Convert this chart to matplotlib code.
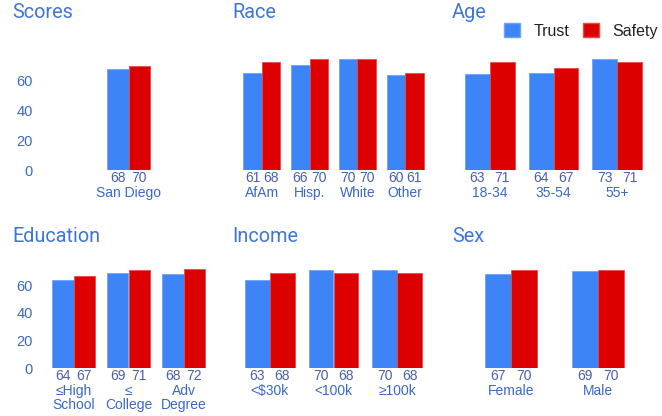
import matplotlib
matplotlib.use("Agg")
import matplotlib.pyplot as plt
from matplotlib.patches import Patch

# ---- data ----
scores_cats = ["San Diego"]
scores_trust = [68]
scores_safety = [70]

race_cats = ["AfAm", "Hisp.", "White", "Other"]
race_trust = [61, 66, 70, 60]
race_safety = [68, 70, 70, 61]

age_cats = ["18-34", "35-54", "55+"]
age_trust = [63, 64, 73]
age_safety = [71, 67, 71]

edu_cats = ["\u2264High\nSchool", "\u2264\nCollege", "Adv\nDegree"]
edu_trust = [64, 69, 68]
edu_safety = [67, 71, 72]

income_cats = ["<$30k", "<100k", "\u2265100k"]
income_trust = [63, 70, 70]
income_safety = [68, 68, 68]

sex_cats = ["Female", "Male"]
sex_trust = [67, 69]
sex_safety = [70, 70]

yticks = [0, 20, 40, 60]

# ---- style ----
W, H = 662, 416
BLUE = "#3d85f6"
RED = "#dd0000"
TITLE_C = "#3f76d6"
CAT_C = "#3a68c8"
VAL_C = "#4a5fae"
LBL_FONT = ["Liberation Sans", "DejaVu Sans"]
TITLE_FONT = ["Roboto", "DejaVu Sans"]

fig = plt.figure(figsize=(W / 100, H / 100), dpi=100)


def px_axes(x0, x1, ytop, ybot):
    return fig.add_axes([x0 / W, 1 - ybot / H, (x1 - x0) / W, (ybot - ytop) / H])


def panel(title, tx, ty, rect, cats, trust, safety, xlim, ymax, bw, show_y=False):
    ax = px_axes(*rect)
    xs = list(range(len(cats)))
    ax.bar([x - bw / 2 for x in xs], trust, width=bw, color=BLUE,
           edgecolor="#6fa3f8", linewidth=0.6)
    ax.bar([x + bw / 2 for x in xs], safety, width=bw, color=RED,
           edgecolor="#e84a4a", linewidth=0.6)
    ax.set_xlim(*xlim)
    ax.set_ylim(0, ymax)
    for s in ax.spines.values():
        s.set_visible(False)
    ax.set_xticks([])
    if show_y:
        ax.set_yticks(yticks)
        ax.tick_params(axis="y", length=0, pad=9.5, labelcolor=CAT_C,
                       labelsize=10.5)
        for t in ax.get_yticklabels():
            t.set_family(LBL_FONT)
    else:
        ax.set_yticks([])
    ax.patch.set_alpha(0)
    for x, c, tv, sv in zip(xs, cats, trust, safety):
        for dx, v in ((-bw / 2, tv), (bw / 2, sv)):
            ax.annotate(str(v), (x + dx, 0), xytext=(0, -6), textcoords="offset points",
                        ha="center", va="center", fontsize=10, color=VAL_C,
                        family=LBL_FONT, annotation_clip=False)
        ax.annotate(c, (x, 0), xytext=(0, -11.8), textcoords="offset points",
                    ha="center", va="top", fontsize=10, color=CAT_C,
                    family=LBL_FONT, linespacing=0.95, annotation_clip=False)
    fig.text(tx / W, 1 - ty / H, title, fontsize=14.3, color=TITLE_C,
             family=TITLE_FONT, ha="left", va="baseline")
    return ax


panel("Scores", 12, 18, (46, 211, 55, 170), scores_cats, scores_trust, scores_safety,
      (-1.5, 1.5), 77.2, 0.39, show_y=True)
panel("Race", 232, 18, (238, 429, 55, 170), race_cats, race_trust, race_safety,
      (-0.5, 3.5), 72.3, 0.39)
panel("Age", 452, 18, (458, 649, 55, 170), age_cats, age_trust, age_safety,
      (-0.5, 2.5), 75.7, 0.39)
panel("Education", 12, 242, (46, 211, 258, 368), edu_cats, edu_trust, edu_safety,
      (-0.5, 2.5), 79.7, 0.39, show_y=True)
panel("Income", 232, 242, (238, 429, 258, 368), income_cats, income_trust, income_safety,
      (-0.5, 2.5), 78.6, 0.39)
panel("Sex", 452, 242, (468, 641, 258, 368), sex_cats, sex_trust, sex_safety,
      (-0.5, 1.5), 78.6, 0.30)

handles = [Patch(facecolor=BLUE, edgecolor="#6fa3f8", label="Trust"),
           Patch(facecolor=RED, edgecolor="#e84a4a", label="Safety")]
leg = fig.legend(handles=handles, loc="center", bbox_to_anchor=(581 / W, 1 - 31 / H),
                 ncol=2, frameon=False, handlelength=1.0, handleheight=1.0,
                 handletextpad=0.8, columnspacing=0.9, prop={"family": LBL_FONT, "size": 11.5})
for t in leg.get_texts():
    t.set_color("#222222")

fig.savefig("out.png", dpi=100)
